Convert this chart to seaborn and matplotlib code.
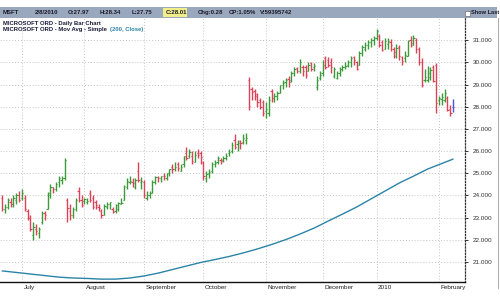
import numpy as np
import pandas as pd
import matplotlib
matplotlib.use("Agg")
import matplotlib.pyplot as plt
import matplotlib.transforms as mtransforms
from matplotlib.patches import Rectangle
from matplotlib.lines import Line2D
import seaborn as sns

# ---------------- data ----------------
opens = [23.9, 23.4, 23.5, 23.7, 23.6, 23.8, 24.0, 23.9, 23.9, 23.3,
         23.0, 22.2, 22.5, 22.3, 22.8, 23.2, 23.4, 24.0, 24.4, 24.3,
         24.6, 24.7, 24.8, 23.8, 23.3, 23.1, 23.4, 24.2, 23.8, 23.75,
         23.7, 24.1, 23.9, 23.7, 23.5, 23.3, 23.1, 23.5, 23.6, 23.4,
         23.3, 23.4, 23.6, 23.8, 24.4, 24.6, 24.6, 24.4, 25.1, 24.6,
         24.6, 23.9, 24.0, 24.1, 24.6, 24.85, 24.8, 24.9, 24.8, 25.0,
         25.3, 25.2, 25.4, 25.1, 25.4, 25.9, 25.8, 25.8, 25.5, 25.9,
         25.9, 25.5, 24.8, 25.0, 25.1, 25.4, 25.5, 25.6, 25.6, 25.7,
         25.9, 26.0, 26.5, 26.3, 26.45, 26.4, 26.5, 29.2, 28.8, 28.7,
         28.5, 28.3, 28.2, 27.8, 27.7, 28.7, 28.4, 28.5, 28.6, 29.0,
         29.1, 29.25, 29.2, 29.5, 29.75, 29.6, 29.8, 29.8, 29.6, 29.95,
         29.8, 28.9, 29.3, 29.5, 30.2, 30.1, 30.0, 29.4, 29.3, 29.5,
         29.7, 29.8, 29.9, 30.0, 30.25, 30.0, 29.9, 30.4, 30.6, 30.8,
         30.9, 31.0, 31.1, 31.2, 30.9, 30.6, 30.85, 30.9, 30.6, 30.3,
         30.7, 30.25, 30.2, 30.3, 31.0, 30.8, 31.0, 30.6, 30.0, 29.2,
         29.2, 29.35, 29.8, 29.9, 28.3, 28.35, 28.3, 28.4, 27.9, 27.97]
highs = [24.0, 23.6, 23.9, 23.9, 24.0, 24.1, 24.2, 24.3, 24.0, 23.4,
         23.1, 22.8, 22.7, 22.6, 23.3, 23.3, 24.15, 24.5, 24.4, 24.6,
         24.9, 24.9, 25.7, 23.9, 23.6, 23.5, 23.9, 24.4, 24.0, 23.9,
         23.9, 24.25, 24.0, 23.8, 23.6, 23.4, 23.6, 23.7, 23.7, 23.5,
         23.6, 23.7, 23.9, 24.45, 24.8, 24.9, 24.8, 24.8, 25.49, 24.85,
         24.7, 24.2, 24.2, 24.7, 24.9, 24.9, 24.9, 25.0, 25.0, 25.2,
         25.4, 25.5, 25.5, 25.4, 25.8, 26.2, 26.1, 26.0, 26.0, 26.1,
         26.0, 25.55, 25.1, 25.2, 25.5, 25.6, 25.8, 25.7, 25.8, 25.9,
         26.1, 26.4, 26.75, 26.5, 26.5, 26.75, 26.8, 29.35, 28.9, 28.8,
         28.6, 28.4, 28.3, 28.2, 28.5, 28.8, 28.6, 28.7, 29.0, 29.2,
         29.3, 29.4, 29.6, 29.8, 29.8, 30.15, 29.9, 29.9, 30.0, 30.0,
         29.95, 29.4, 29.6, 30.1, 30.3, 30.25, 30.2, 29.8, 29.6, 29.8,
         29.9, 30.0, 30.1, 30.3, 30.3, 30.05, 30.5, 30.8, 30.9, 31.0,
         31.1, 31.2, 31.5, 31.3, 31.0, 31.1, 31.1, 31.05, 30.7, 30.85,
         30.8, 30.3, 30.5, 31.0, 31.2, 31.24, 31.1, 30.7, 30.2, 29.7,
         29.85, 29.8, 29.9, 29.95, 28.5, 28.6, 28.8, 28.5, 28.1, 28.34]
lows = [23.3, 23.2, 23.4, 23.5, 23.5, 23.6, 23.7, 23.8, 23.3, 22.9,
        22.4, 22.0, 22.2, 22.1, 22.7, 22.9, 23.4, 23.9, 24.1, 24.2,
        24.4, 24.5, 24.7, 22.8, 22.9, 23.0, 23.3, 23.7, 23.5, 23.6,
        23.6, 23.7, 23.4, 23.4, 23.3, 23.0, 23.1, 23.4, 23.4, 23.2,
        23.2, 23.3, 23.6, 23.8, 24.3, 24.5, 24.4, 24.3, 24.6, 24.3,
        23.9, 23.8, 23.9, 24.1, 24.5, 24.6, 24.6, 24.7, 24.7, 24.9,
        25.0, 25.1, 25.1, 25.1, 25.3, 25.6, 25.7, 25.4, 25.5, 25.7,
        25.4, 24.7, 24.6, 24.8, 25.0, 25.3, 25.4, 25.4, 25.5, 25.6,
        25.8, 25.9, 26.1, 26.0, 26.1, 26.3, 26.3, 27.85, 28.3, 28.3,
        28.0, 27.9, 27.6, 27.5, 27.6, 28.2, 28.2, 28.3, 28.6, 28.8,
        28.9, 28.9, 29.1, 29.4, 29.5, 29.5, 29.4, 29.3, 29.6, 29.6,
        29.6, 28.75, 29.2, 29.4, 29.7, 29.8, 29.5, 29.3, 29.25, 29.4,
        29.6, 29.7, 29.8, 29.8, 29.9, 29.65, 29.9, 30.3, 30.5, 30.6,
        30.7, 30.8, 31.0, 30.7, 30.5, 30.6, 30.6, 30.5, 30.2, 30.2,
        30.1, 29.9, 30.0, 30.3, 30.7, 30.8, 30.4, 29.9, 28.9, 29.1,
        29.1, 29.2, 29.1, 27.7, 28.1, 28.1, 28.2, 27.8, 27.6, 27.75]
closes = [23.4, 23.5, 23.8, 23.6, 23.9, 24.0, 23.8, 24.1, 23.4, 23.0,
          22.5, 22.6, 22.4, 22.5, 23.2, 23.1, 24.1, 24.4, 24.3, 24.5,
          24.8, 24.8, 25.6, 23.45, 23.1, 23.4, 23.8, 23.8, 23.55, 23.83,
          23.77, 23.81, 23.46, 23.56, 23.42, 23.13, 23.53, 23.62, 23.69, 23.25,
          23.58, 23.65, 23.67, 24.41, 24.64, 24.64, 24.55, 24.69, 24.68, 24.65,
          24.0, 24.01, 24.11, 24.62, 24.82, 24.78, 24.86, 24.86, 25.0, 25.18,
          25.2, 25.3, 25.26, 25.3, 25.77, 25.71, 25.94, 25.55, 25.83, 25.83,
          25.72, 24.88, 24.96, 25.06, 25.41, 25.48, 25.67, 25.55, 25.7, 25.8,
          25.96, 26.28, 26.2, 26.36, 26.37, 26.58, 26.59, 28.02, 28.68, 28.59,
          28.22, 28.0, 27.73, 27.9, 28.3, 28.4, 28.5, 28.6, 28.99, 29.05,
          29.2, 29.1, 29.5, 29.7, 29.6, 30.0, 29.6, 29.45, 29.9, 29.7,
          29.85, 29.2, 29.41, 29.9, 29.8, 29.9, 29.8, 29.7, 29.5, 29.7,
          29.8, 29.85, 30.0, 30.2, 30.1, 29.7, 30.4, 30.7, 30.8, 30.9,
          31.0, 31.1, 31.4, 30.8, 30.55, 30.95, 30.96, 30.77, 30.45, 30.66,
          30.27, 30.07, 30.35, 30.96, 30.86, 31.1, 30.59, 30.01, 28.96, 29.32,
          29.5, 29.67, 29.16, 28.18, 28.41, 28.46, 28.63, 27.84, 27.73, 28.01]

# 200-day simple moving average, sampled along the line
ma_bar = [0, 5, 10, 15, 20, 25, 30, 35, 40, 45, 50, 55, 60, 65, 70, 75, 80,
          85, 90, 95, 100, 105, 110, 115, 120, 125, 130, 135, 140, 145, 150,
          155, 159]
ma_vals = [20.60, 20.53, 20.46, 20.39, 20.32, 20.28, 20.26, 20.23, 20.23,
           20.28, 20.37, 20.50, 20.66, 20.82, 20.98, 21.11, 21.25, 21.41,
           21.59, 21.79, 22.01, 22.26, 22.53, 22.85, 23.16, 23.48, 23.84,
           24.20, 24.56, 24.87, 25.19, 25.44, 25.64]

month_labels = ["July", "August", "September", "October", "November",
                "December", "2010", "February"]
month_bar = [7, 29, 50, 71, 93, 113, 132, 154]
y_ticks = [21, 22, 23, 24, 25, 26, 27, 28, 29, 30, 31]

header_items = ["MSFT", "2/8/2010", "O:27.97", "H:28.34", "L:27.75",
                "C:28.01", "Chg:0.28", "CP:1.05%", "V:59395742"]
legend_lines = ["MICROSOFT ORD - Daily Bar Chart",
                "MICROSOFT ORD - Mov Avg - Simple "]
legend_param = "(200, Close)"

# ---------------- styling ----------------
sns.set_style("white")
plt.rcParams['font.family'] = ['Liberation Sans', 'DejaVu Sans']

UP = "#3c9a3a"
DOWN = "#de4258"
LAST = "#4b55d6"
MA_COL = "#2a84a8"
GRID = "#c4c4c4"

W, H = 500, 301
fig = plt.figure(figsize=(W / 100, H / 100), dpi=100)
fig.patch.set_facecolor("white")

def fx(px):
    return px / W

def fy(py):
    return 1 - py / H

ax_left, ax_right, ax_top, ax_bot = 0, 465, 18, 282
ax = fig.add_axes([fx(ax_left), fy(ax_bot), fx(ax_right - ax_left),
                   (ax_bot - ax_top) / H])
ax.set_facecolor("white")

df = pd.DataFrame({"bar": np.arange(len(closes)), "open": opens,
                   "high": highs, "low": lows, "close": closes})
colors = [UP if c >= o else DOWN for o, c in zip(df["open"], df["close"])]
colors[-1] = LAST

# grid
for v in y_ticks:
    ax.axhline(v, color=GRID, lw=0.7, ls=(0, (1, 2)), zorder=0)
for b in month_bar:
    ax.axvline(b, color=GRID, lw=0.7, ls=(0, (1, 2)), zorder=0)

# OHLC bars
ax.vlines(df["bar"], df["low"], df["high"], colors=colors, lw=1.0, zorder=3)
ax.hlines(df["open"], df["bar"] - 0.45, df["bar"], colors=colors, lw=0.8, zorder=3)
ax.hlines(df["close"], df["bar"], df["bar"] + 0.45, colors=colors, lw=0.8, zorder=3)

# moving average via seaborn
ma_df = pd.DataFrame({"bar": ma_bar, "ma": ma_vals})
sns.lineplot(data=ma_df, x="bar", y="ma", ax=ax, color=MA_COL, lw=1.0,
             zorder=4, legend=False)

ax.set_xlim(-0.75, 163.2)
ax.set_ylim(20.1, 32.0)
ax.set_xlabel("")
ax.set_ylabel("")

# spines
for s in ["top", "left"]:
    ax.spines[s].set_visible(False)
ax.spines["bottom"].set_color("#111111")
ax.spines["bottom"].set_linewidth(1.0)
ax.spines["right"].set_color("#333333")
ax.spines["right"].set_linewidth(0.9)
ax.spines["right"].set_linestyle((0, (1, 1.5)))

# y ticks on the right
ax.yaxis.tick_right()
ax.set_yticks(y_ticks)
ax.set_yticklabels([f"{v:.3f}" for v in y_ticks], fontsize=4.6, color="#333333")
ax.tick_params(axis="y", length=2.5, width=0.7, pad=3, colors="#333333")

# x ticks: month separators with labels to the right of tick
ax.set_xticks(month_bar)
ax.set_xticklabels([])
ax.tick_params(axis="x", length=6, width=0.8, direction="out", colors="#111111")
trans = mtransforms.blended_transform_factory(ax.transData, ax.transAxes)
for b, lab in zip(month_bar, month_labels):
    ax.text(b + 0.5, -0.012, lab, transform=trans, fontsize=4.6,
            ha="left", va="top", color="#222222")

# header band
fig.patches.append(Rectangle((0, fy(18)), fx(497), (18 - 7) / H,
                             transform=fig.transFigure, facecolor="#9aa8bd",
                             edgecolor="none", zorder=0))
header_x = [3, 35, 68, 100, 132, 166, 198, 229, 260]
for px, txt in zip(header_x, header_items):
    if txt.startswith("C:"):
        fig.patches.append(Rectangle((fx(px - 3), fy(17)), fx(24), 9 / H,
                                     transform=fig.transFigure,
                                     facecolor="#f2ef8a", edgecolor="none",
                                     zorder=1))
    fig.text(fx(px), fy(12.5), txt, fontsize=4.3, fontweight="bold",
             color="#1a1a2a", ha="left", va="center", zorder=2)
# "Show Last" checkbox
fig.patches.append(Rectangle((fx(465), fy(15.5)), fx(5), 5 / H,
                             transform=fig.transFigure, facecolor="white",
                             edgecolor="#555555", lw=0.4, zorder=1))
fig.text(fx(471), fy(12.5), "Show Last", fontsize=4.1, fontweight="bold",
         color="#1a1a2a", ha="left", va="center")

# legend text
fig.text(fx(3), fy(23), legend_lines[0], fontsize=4.2, fontweight="bold",
         color="#1a1a3a", ha="left", va="center")
t2 = fig.text(fx(3), fy(29.5), legend_lines[1], fontsize=4.2, fontweight="bold",
              color="#1a1a3a", ha="left", va="center")
fig.canvas.draw()
bb = t2.get_window_extent(renderer=fig.canvas.get_renderer())
fig.text(bb.x1 / W + fx(1), fy(29.5), legend_param, fontsize=4.2,
         fontweight="bold", color=MA_COL, ha="left", va="center")

# right border line
fig.lines.append(Line2D([fx(497.5), fx(497.5)], [fy(288), fy(18)],
                        transform=fig.transFigure, color="#aaaaaa", lw=0.7))

fig.savefig("out.png", dpi=100, facecolor="white")
